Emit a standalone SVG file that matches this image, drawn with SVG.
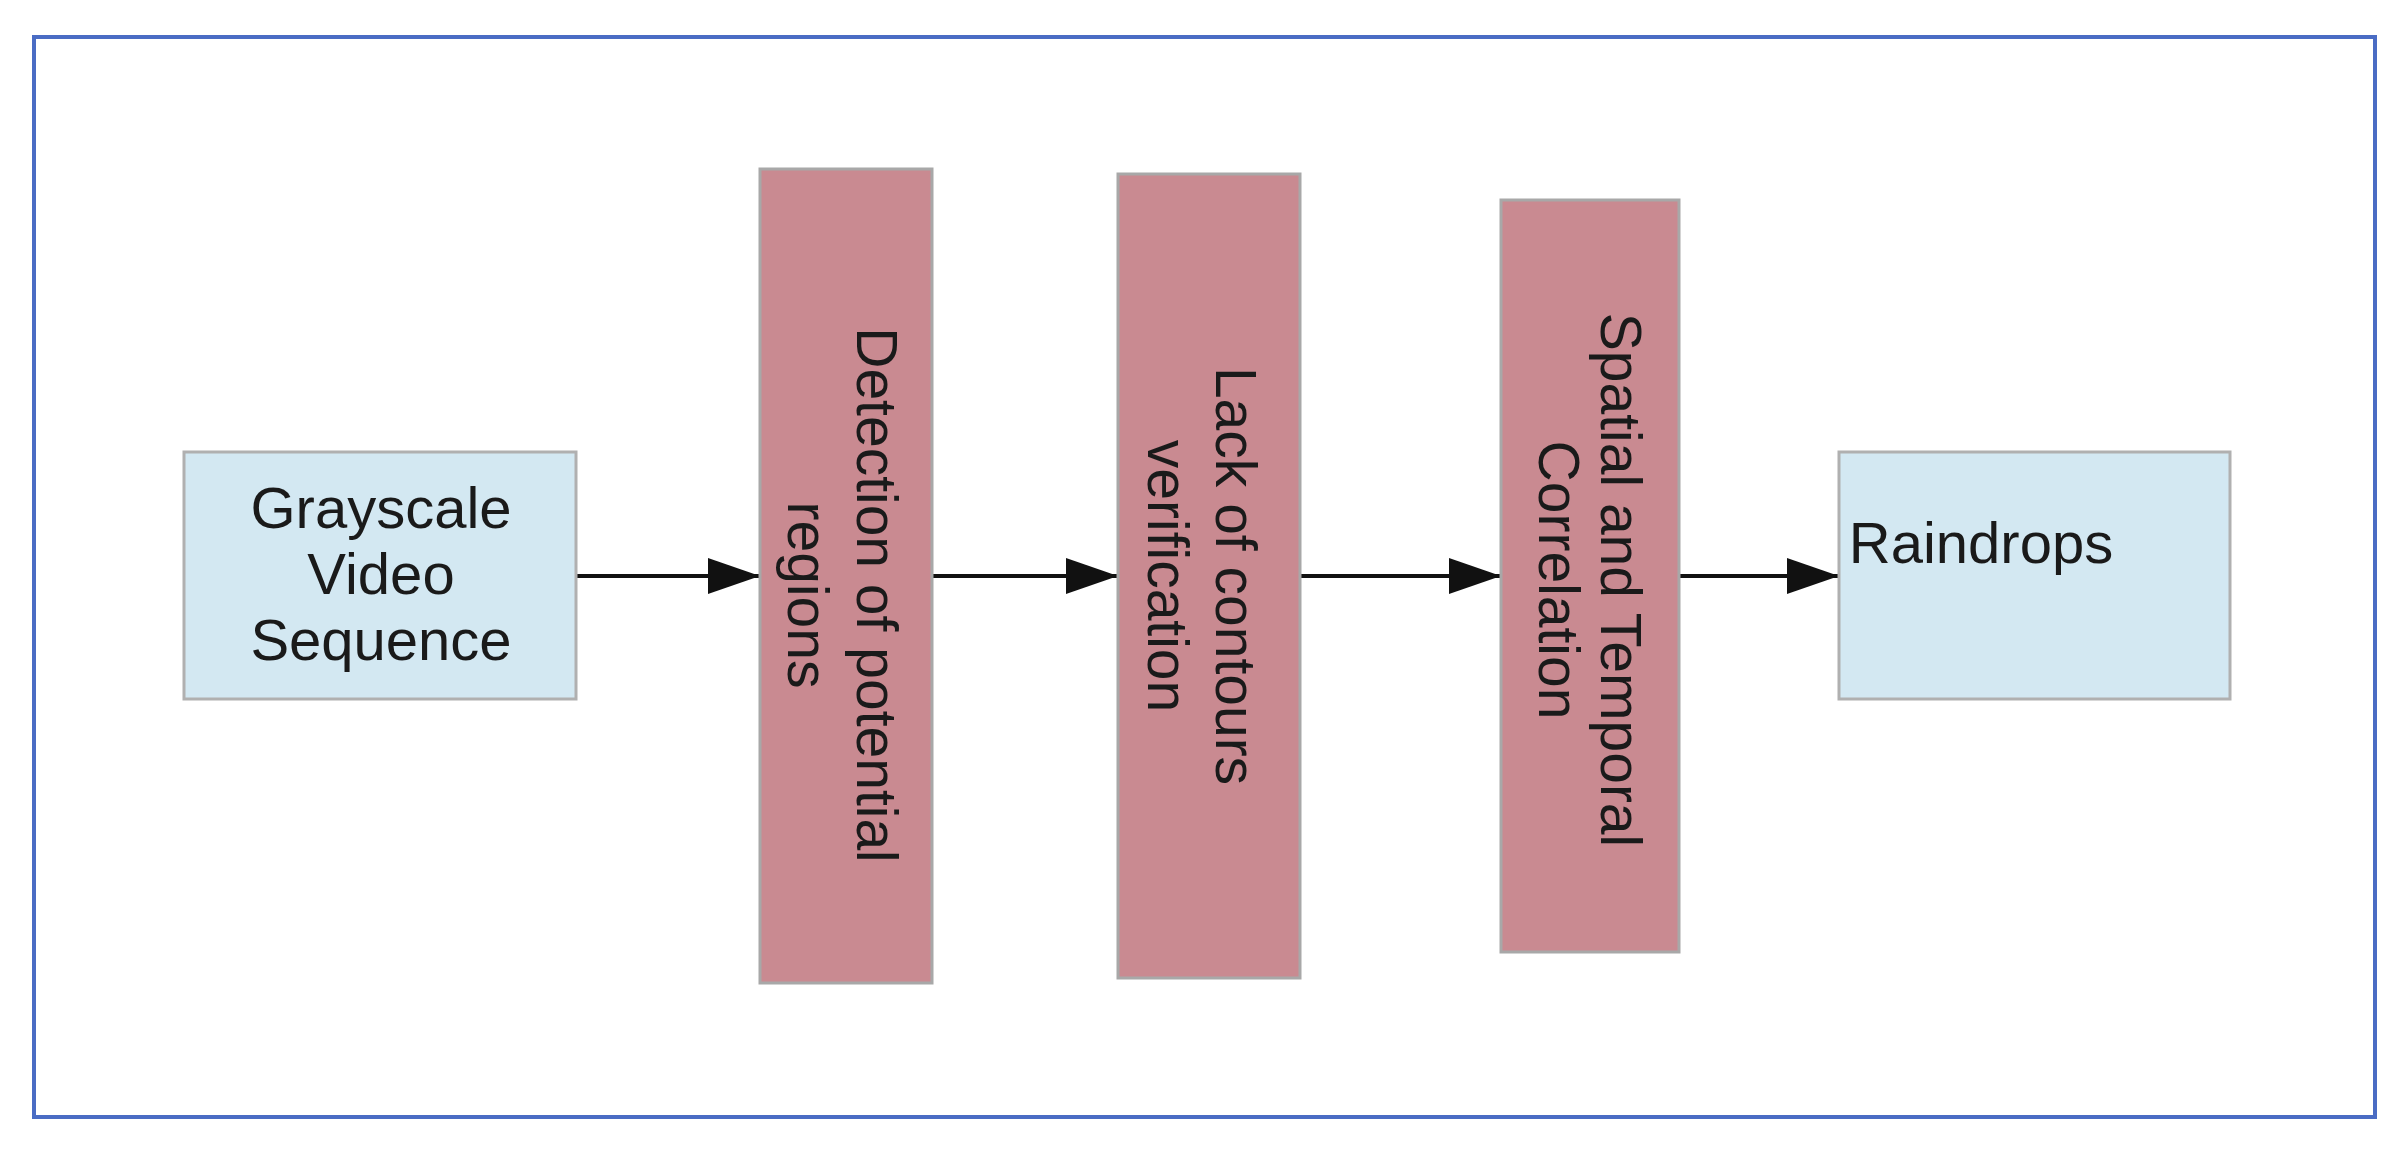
<svg xmlns="http://www.w3.org/2000/svg" width="2408" height="1160" viewBox="0 0 2408 1160">
<style>
.b{fill:#d3e8f2;stroke:#b0b0b0;stroke-width:3}
.r{fill:#c98a91;stroke:#a8a8a8;stroke-width:3}
text{font-family:"Liberation Sans",Arial,sans-serif;font-size:57px;fill:#1a1a1a;text-anchor:middle;dominant-baseline:central}
.n{font-size:58px}
.c{stroke:#111;stroke-width:4;fill:none;marker-end:url(#a)}
</style>
<defs><marker id="a" markerWidth="52" markerHeight="36" refX="52" refY="18" markerUnits="userSpaceOnUse" orient="auto"><path d="M0,0L52,18L0,36Z" fill="#111"/></marker></defs>
<rect width="2408" height="1160" fill="#fff"/>
<rect x="34" y="37" width="2341" height="1080" fill="none" stroke="#4a6cc4" stroke-width="4"/>
<g id="connectors">
<line class="c" x1="576" y1="576" x2="760" y2="576"/>
<line class="c" x1="932" y1="576" x2="1118" y2="576"/>
<line class="c" x1="1300" y1="576" x2="1501" y2="576"/>
<line class="c" x1="1679" y1="576" x2="1839" y2="576"/>
</g>
<g id="gray"><rect class="b" x="184" y="452" width="392" height="247"/>
<text class="n" x="381" y="507">Grayscale</text><text class="n" x="381" y="573">Video</text><text class="n" x="381" y="639">Sequence</text></g>
<g id="detect"><rect class="r" x="760" y="169" width="172" height="814"/>
<g transform="translate(843,595) rotate(90)"><text x="0" y="-34">Detection of potential</text><text x="0" y="35">regions</text></g></g>
<g id="lack"><rect class="r" x="1118" y="174" width="182" height="804"/>
<g transform="translate(1202,576) rotate(90)"><text x="0" y="-34">Lack of contours</text><text x="0" y="34">verification</text></g></g>
<g id="spatial"><rect class="r" x="1501" y="200" width="178" height="752"/>
<g transform="translate(1590,580) rotate(90)"><text x="0" y="-31">Spatial and Temporal</text><text x="0" y="31">Correlation</text></g></g>
<g id="rain"><rect class="b" x="1839" y="452" width="391" height="247"/>
<text class="n" x="1981" y="542">Raindrops</text></g>
</svg>
